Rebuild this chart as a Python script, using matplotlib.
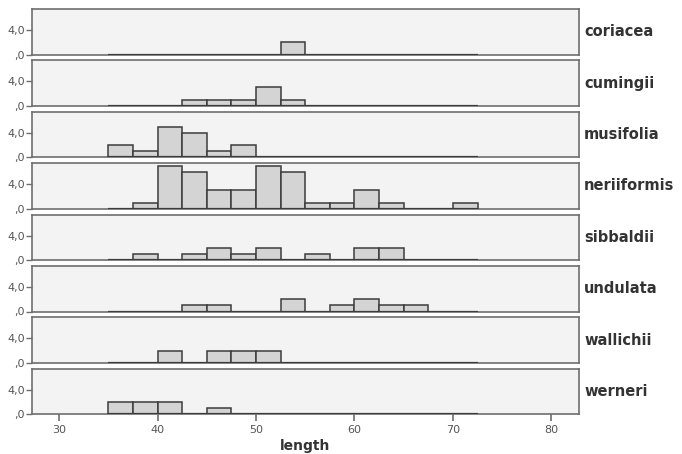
import matplotlib.pyplot as plt
import numpy as np

species = ['coriacea', 'cumingii', 'musifolia', 'neriiformis',
           'sibbaldii', 'undulata', 'wallichii', 'werneri']

# histogram bins of width 2.5 starting at 35
bin_left = [35, 37.5, 40, 42.5, 45, 47.5, 50, 52.5, 55, 57.5, 60, 62.5, 65, 67.5, 70]
bin_width = 2.5

counts = {
    'coriacea':    [0, 0, 0, 0, 0, 0, 0, 2, 0, 0, 0, 0, 0, 0, 0],
    'cumingii':    [0, 0, 0, 1, 1, 1, 3, 1, 0, 0, 0, 0, 0, 0, 0],
    'musifolia':   [2, 1, 5, 4, 1, 2, 0, 0, 0, 0, 0, 0, 0, 0, 0],
    'neriiformis': [0, 1, 7, 6, 3, 3, 7, 6, 1, 1, 3, 1, 0, 0, 1],
    'sibbaldii':   [0, 1, 0, 1, 2, 1, 2, 0, 1, 0, 2, 2, 0, 0, 0],
    'undulata':    [0, 0, 0, 1, 1, 0, 0, 2, 0, 1, 2, 1, 1, 0, 0],
    'wallichii':   [0, 0, 2, 0, 2, 2, 2, 0, 0, 0, 0, 0, 0, 0, 0],
    'werneri':     [2, 2, 2, 0, 1, 0, 0, 0, 0, 0, 0, 0, 0, 0, 0],
}

x_ticks = [30, 40, 50, 60, 70, 80]
y_ticks = [0, 4]
y_ticklabels = [',0', '4,0']

W, H = 682, 454
fig = plt.figure(figsize=(W / 100, H / 100), dpi=100)
fig.patch.set_facecolor('white')

left, right = 32, 579
top0 = 9
ph = 45.5
pitch = 51.4

frame_col = '#6e6e6e'
text_col = '#555555'

for i, sp in enumerate(species):
    top = top0 + i * pitch
    ax = fig.add_axes([left / W, 1 - (top + ph) / H, (right - left) / W, ph / H])
    ax.set_facecolor('#f3f3f3')
    h = counts[sp]
    xs = [b for b, c in zip(bin_left, h) if c > 0]
    hs = [c for c in h if c > 0]
    ax.bar(xs, hs, width=bin_width, align='edge', color='#d4d4d4',
           edgecolor='#3c3c3c', linewidth=1.1, zorder=3)
    ax.hlines(0, bin_left[0], bin_left[-1] + bin_width, color='#3c3c3c',
              linewidth=1.6, zorder=4)
    ax.set_xlim(27.25, 82.8)
    ax.set_ylim(0, 7.4)
    ax.set_yticks(y_ticks)
    ax.set_yticklabels(y_ticklabels, fontsize=8, color=text_col)
    for s in ax.spines.values():
        s.set_color(frame_col)
        s.set_linewidth(1.2)
    ax.tick_params(axis='y', length=4, width=1, color=frame_col, pad=1)
    ax.set_xticks(x_ticks)
    if i < len(species) - 1:
        ax.tick_params(axis='x', length=0, labelbottom=False)
    else:
        ax.set_xticklabels([str(t) for t in x_ticks], fontsize=8, color=text_col)
        ax.tick_params(axis='x', length=5, width=1.2, color=frame_col, pad=3)
    fig.text(584 / W, 1 - (top + ph / 2) / H, sp, fontsize=10.5, fontweight='bold',
             color='#333333', va='center', ha='left')

fig.text((left + right) / 2 / W, 1 / H, 'length', fontsize=10,
         fontweight='bold', color='#333333', ha='center', va='bottom')

fig.savefig('out.png', dpi=100)
